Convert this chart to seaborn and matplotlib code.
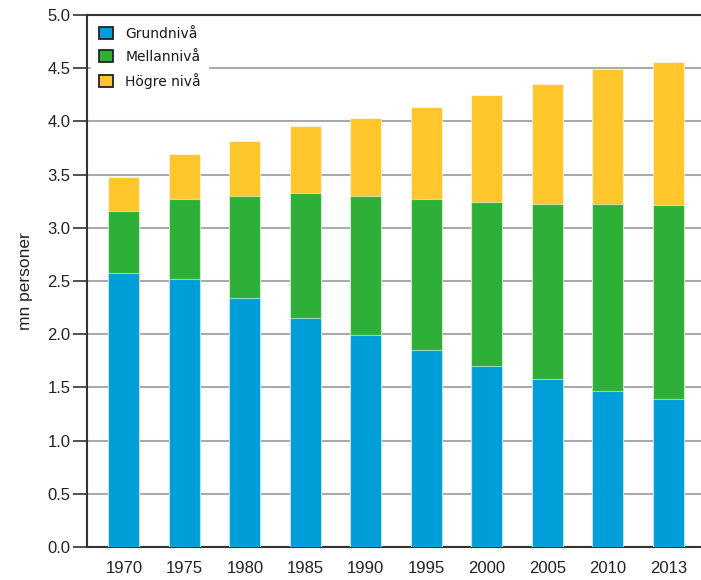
import pandas as pd
import numpy as np
import seaborn as sns
import matplotlib.pyplot as plt
from matplotlib.patches import Patch

# data (mn personer)
years = ["1970", "1975", "1980", "1985", "1990", "1995", "2000", "2005", "2010", "2013"]
grundniva = [2.575, 2.52, 2.34, 2.155, 1.99, 1.85, 1.70, 1.58, 1.465, 1.39]
mellanniva = [0.585, 0.75, 0.96, 1.175, 1.31, 1.42, 1.54, 1.64, 1.755, 1.82]
hogre_niva = [0.32, 0.42, 0.52, 0.63, 0.73, 0.87, 1.01, 1.13, 1.27, 1.35]
nivaer = ["Grundnivå", "Mellannivå", "Högre nivå"]
farger = ["#009ed8", "#2eb038", "#ffc72c"]

df = pd.DataFrame({"År": years, "Grundnivå": grundniva,
                   "Mellannivå": mellanniva, "Högre nivå": hogre_niva})
# stacked tops
df["topp_grund"] = df["Grundnivå"]
df["topp_mellan"] = df["topp_grund"] + df["Mellannivå"]
df["topp_hogre"] = df["topp_mellan"] + df["Högre nivå"]

sns.set_style("white")
plt.rcParams["font.family"] = ["Liberation Sans", "DejaVu Sans"]

fig = plt.figure(figsize=(7.01, 5.80), dpi=100)
ax = fig.add_axes([87 / 701, 33 / 580, 1 - 87 / 701 + 0.006, 532 / 580])

for kol, farg in zip(["topp_hogre", "topp_mellan", "topp_grund"], farger[::-1]):
    sns.barplot(data=df, x="År", y=kol, color=farg, saturation=1, width=0.51,
                edgecolor=(1, 1, 1, 0.55), linewidth=0.8, ax=ax, zorder=3)

ax.set_ylim(0, 5.0)
ax.set_xlim(-0.61, 9.61)
ax.set_yticks(np.arange(0, 5.01, 0.5))
ax.set_yticklabels([f"{v:.1f}" for v in np.arange(0, 5.01, 0.5)])
ax.yaxis.grid(True, color="#aaaaaa", linewidth=1.5, zorder=0)
ax.set_axisbelow(True)

for s in ["left", "bottom", "top"]:
    ax.spines[s].set_color("#333333")
    ax.spines[s].set_linewidth(1.5)
ax.spines["right"].set_visible(False)

ax.tick_params(axis="y", length=10, width=1.2, color="#333333", labelsize=12,
               labelcolor="#222222", pad=2, left=True)
ax.tick_params(axis="x", length=0, labelsize=12, labelcolor="#222222", pad=10)
ax.set_xlabel("")
ax.set_ylabel("mn personer", fontsize=12.5, color="#222222", labelpad=10)

handles = [Patch(facecolor=f, edgecolor="#222222", linewidth=1.3) for f in farger]
leg = ax.legend(handles, nivaer, loc="upper left", bbox_to_anchor=(0.0, 1.0),
                frameon=True, fancybox=False, framealpha=1, edgecolor="white",
                handlelength=1.0, handleheight=1.0, handletextpad=0.9,
                labelspacing=0.65, borderpad=0.55, borderaxespad=0.3,
                prop={"family": "DejaVu Sans", "size": 10})
for t in leg.get_texts():
    t.set_color("#1a1a1a")
leg.set_zorder(5)

fig.savefig("out.png", dpi=100)
